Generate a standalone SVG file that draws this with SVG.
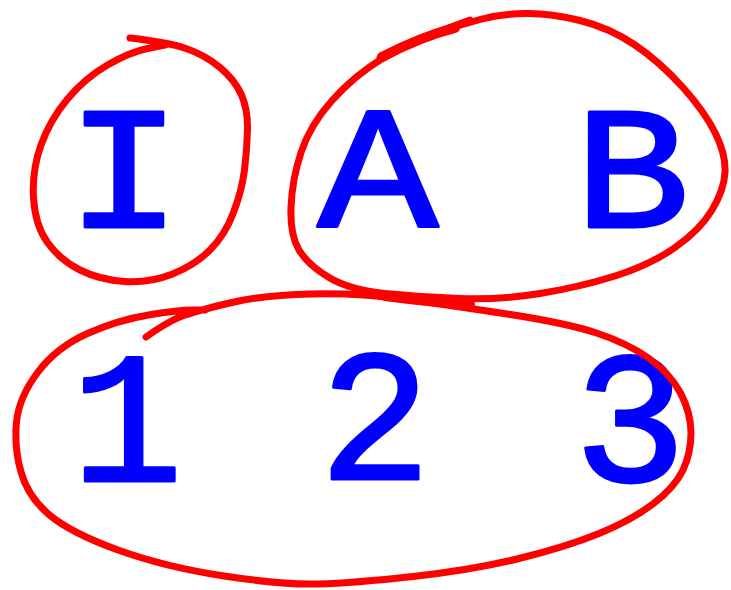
<svg xmlns="http://www.w3.org/2000/svg" width="731" height="590" viewBox="0 0 731 590">
<style>
.ink{fill:none;stroke:#ff0000;stroke-width:7;stroke-linecap:round;stroke-linejoin:round}
.thick{fill:none;stroke:#ff0000;stroke-width:10;stroke-linecap:round}
.lbl{font-family:"Liberation Mono","Courier New",monospace;font-weight:normal;fill:#0000ff;stroke:#0000ff;stroke-width:3;stroke-linejoin:round;stroke-linecap:round;text-anchor:middle}
.let{font-size:175px}
.dig{font-size:187px}
</style>
<rect width="731" height="590" fill="#ffffff"/>
<g id="group-I">
<text class="lbl let" transform="translate(124,227) scale(1.1,1)">I</text>
<path class="ink" d="M130,38 Q167,42 186,48.5 Q205,55 220,67.5 Q235,80 241.5,95 Q248,110 247.5,130 Q247,150 244.5,170 Q242,190 233.5,212.5 Q225,235 210,250 Q195,265 172.5,274 Q150,283 125,281.5 Q100,280 80,270 Q60,260 47.5,242.5 Q35,225 33.5,197.5 Q32,170 41,145 Q50,120 67.5,99 Q85,78 107.5,65 Q130,52 147.5,48.5 L165,45"/>
</g>
<g id="group-AB">
<text class="lbl let" transform="translate(378,227) scale(1.15,1)">A</text>
<text class="lbl let" transform="translate(632,227) scale(1.1,1)">B</text>
<path class="ink" d="M380,58 Q420,38 440,31.5 Q460,25 480,19.5 Q500,14 525,13.5 Q550,13 580,20.5 Q610,28 635,45 Q660,62 682.5,87 Q705,112 715.5,133.5 Q726,155 725,172.5 Q724,190 712,210 Q700,230 675,247.5 Q650,265 615,276 Q580,287 540,293.5 Q500,300 460,298.5 Q420,297 385,293.5 Q350,290 329,277.5 Q308,265 299,250 Q290,235 291,207.5 Q292,180 301,152.5 Q310,125 332.5,100 Q355,75 382.5,58.5 Q410,42 440,31 L470,20"/>
<path class="thick" d="M382,57 Q420,37 455,28"/>
<path class="thick" d="M385,296 Q430,302 470,304"/>
</g>
<g id="group-123">
<text class="lbl dig" x="127" y="481">1</text>
<text class="lbl dig" x="375" y="479">2</text>
<text class="lbl dig" x="630" y="481">3</text>
<path class="ink" d="M146,337 Q170,320 185,315 Q200,310 232,302.5 Q264,295 311,294 Q358,293 403,299 Q448,305 507,314 Q566,323 596.5,333 Q627,343 648.5,358 Q670,373 680.5,393 Q691,413 691,433 Q691,453 683,470 Q675,487 653.5,503.5 Q632,520 599,533.5 Q566,547 519,558.5 Q472,570 413,576.5 Q354,583 318.5,584 Q283,585 224,576 Q165,567 118,550 Q71,533 49.5,515 Q28,497 21,472 Q14,447 16.5,422 Q19,397 38,372 Q57,347 87.5,333.5 Q118,320 148.5,315 Q179,310 192,310 L205,310"/>
</g>
</svg>
